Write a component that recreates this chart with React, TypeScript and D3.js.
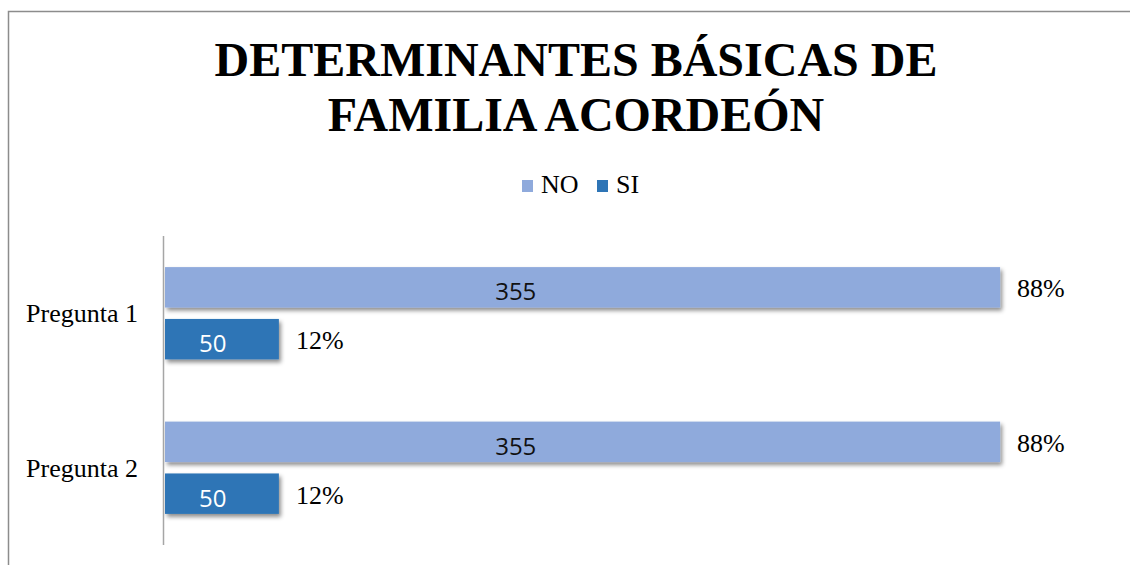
import React, { useRef, useEffect } from 'react';
import { select, scaleLinear, scaleBand } from 'd3';

const categories = ['Pregunta 1', 'Pregunta 2'];
const seriesNames = ['NO', 'SI'];
const noCounts = [355, 355];
const siCounts = [50, 50];
const noPercents = [88, 88];
const siPercents = [12, 12];
const titleLines = ['DETERMINANTES BÁSICAS DE', 'FAMILIA ACORDEÓN'];

const colors = { NO: '#8faadc', SI: '#2e75b6' };
const serif = '"Liberation Serif", "Times New Roman", serif';
const sans = '"Open Sans", "Noto Sans", sans-serif';

export default function App() {
  const svgRef = useRef(null);

  useEffect(() => {
    const width = 1130;
    const height = 565;
    const svg = select(svgRef.current);
    svg.selectAll('*').remove();

    // shadow under bars
    const defs = svg.append('defs');
    defs
      .append('filter')
      .attr('id', 'barShadow')
      .attr('x', '-5%')
      .attr('y', '-20%')
      .attr('width', '115%')
      .attr('height', '160%')
      .append('feDropShadow')
      .attr('dx', 2)
      .attr('dy', 3)
      .attr('stdDeviation', 2)
      .attr('flood-color', '#000')
      .attr('flood-opacity', 0.45);

    // chart frame (right / bottom edges are off-picture)
    svg
      .append('rect')
      .attr('x', 8.5)
      .attr('y', 11.5)
      .attr('width', 1160)
      .attr('height', 600)
      .attr('fill', '#fff')
      .attr('stroke', '#8c8c8c')
      .attr('stroke-width', 1.5);

    // title
    const title = svg
      .append('text')
      .attr('text-anchor', 'middle')
      .attr('font-family', serif)
      .attr('font-weight', 'bold')
      .attr('font-size', 48)
      .attr('fill', '#000');
    titleLines.forEach((t, i) => {
      title.append('tspan').attr('x', 576).attr('y', 76 + i * 55).text(t);
    });

    // legend
    const legendItems = [
      { name: seriesNames[0], x: 522 },
      { name: seriesNames[1], x: 597 },
    ];
    legendItems.forEach(d => {
      svg
        .append('rect')
        .attr('x', d.x)
        .attr('y', 180)
        .attr('width', 11)
        .attr('height', 12)
        .attr('fill', colors[d.name]);
      svg
        .append('text')
        .attr('x', d.x + 19)
        .attr('y', 193)
        .attr('font-family', serif)
        .attr('font-size', 26)
        .attr('fill', '#000')
        .text(d.name);
    });

    // scales
    const x = scaleLinear().domain([0, 100]).range([165, 1114]);
    const y0 = scaleBand().domain(categories).range([236, 545]).padding(0);
    const y1 = scaleBand()
      .domain(seriesNames)
      .range([0, y0.bandwidth()])
      .paddingInner(0.22)
      .paddingOuter(0.6);

    const rows = [];
    categories.forEach((c, i) => {
      rows.push({ cat: c, series: 'NO', count: noCounts[i], pct: noPercents[i] });
      rows.push({ cat: c, series: 'SI', count: siCounts[i], pct: siPercents[i] });
    });

    // bars
    svg
      .append('g')
      .selectAll('rect')
      .data(rows)
      .enter()
      .append('rect')
      .attr('x', x(0))
      .attr('y', d => y0(d.cat) + y1(d.series))
      .attr('width', d => x(d.pct) - x(0))
      .attr('height', y1.bandwidth())
      .attr('fill', d => colors[d.series])
      .attr('filter', 'url(#barShadow)');

    // vertical axis line
    svg
      .append('line')
      .attr('x1', 163.5)
      .attr('x2', 163.5)
      .attr('y1', 236)
      .attr('y2', 545)
      .attr('stroke', '#a6a6a6')
      .attr('stroke-width', 1.5);

    // category labels
    svg
      .append('g')
      .selectAll('text')
      .data(categories)
      .enter()
      .append('text')
      .attr('x', 138)
      .attr('y', d => y0(d) + y0.bandwidth() / 2 + 9)
      .attr('text-anchor', 'end')
      .attr('font-family', serif)
      .attr('font-size', 26)
      .attr('fill', '#000')
      .text(d => d);

    // counts inside bars
    svg
      .append('g')
      .selectAll('text')
      .data(rows)
      .enter()
      .append('text')
      .attr('x', d => x(0) + (x(d.pct) - x(0)) * 0.42)
      .attr('y', d => y0(d.cat) + y1(d.series) + y1.bandwidth() / 2 + 13)
      .attr('text-anchor', 'middle')
      .attr('font-family', sans)
      .attr('font-size', 24)
      .attr('fill', d => (d.series === 'SI' ? '#fff' : '#111'))
      .text(d => d.count);

    // percent labels outside bars
    svg
      .append('g')
      .selectAll('text')
      .data(rows)
      .enter()
      .append('text')
      .attr('x', d => x(d.pct) + 17)
      .attr('y', d => y0(d.cat) + y1(d.series) + y1.bandwidth() / 2 + 10)
      .attr('font-family', serif)
      .attr('font-size', 26)
      .attr('fill', '#000')
      .text(d => `${d.pct}%`);

    svg.attr('width', width).attr('height', height);
  }, []);

  return (
    <svg
      ref={svgRef}
      width={1130}
      height={565}
      style={{ position: 'absolute', left: 0, top: 0, background: '#fff' }}
    />
  );
}
